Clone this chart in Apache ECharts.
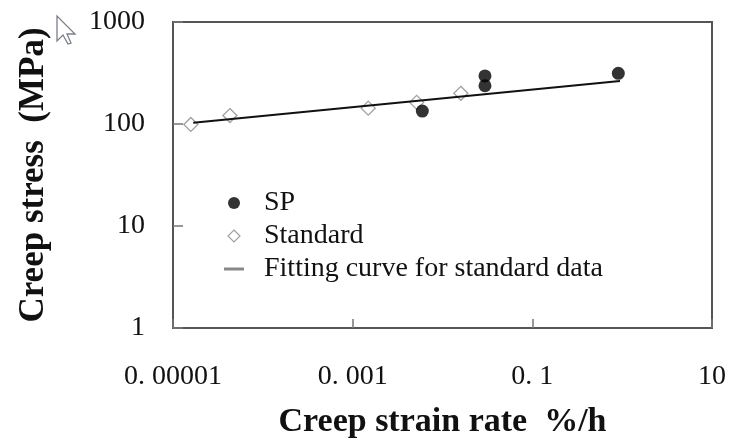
<!DOCTYPE html>
<html>
<head>
<meta charset="utf-8">
<script src="https://cdn.jsdelivr.net/npm/echarts@6/dist/echarts.min.js"></script>
<style>
html,body{margin:0;padding:0;background:#fff;}
#chart{width:729px;height:444px;}
</style>
</head>
<body>
<div id="chart"></div>
<script>
// Data
const spX = [0.00596, 0.0297, 0.0297, 0.906];
const spY = [134, 296, 237, 314];
const stdX = [1.58e-5, 4.3e-5, 1.49e-3, 5.16e-3, 0.016];
const stdY = [99, 121, 143, 163, 200];
const fitX = [1.68e-5, 0.946];
const fitY = [103, 264];
const xTickValues = [0.00001, 0.001, 0.1, 10];
const xTickLabels = ['0. 00001', '0. 001', '0. 1', '10'];
const yTickValues = [1, 10, 100, 1000];
const yTickLabels = ['1', '10', '100', '1000'];
const seriesNames = ['SP', 'Standard', 'Fitting curve for standard data'];

const pairs = (xs, ys) => xs.map((x, i) => [x, ys[i]]);
const FONT = 'Liberation Serif';

function labelFor(vals, labels, v) {
  for (let i = 0; i < vals.length; i++) {
    if (Math.abs(Math.log10(v) - Math.log10(vals[i])) < 1e-6) return labels[i];
  }
  return '';
}

const chart = echarts.init(document.getElementById('chart'), null, {renderer: 'canvas'});
chart.setOption({
  animation: false,
  backgroundColor: '#fff',
  textStyle: {fontFamily: FONT},
  grid: {left: 173, right: 17, top: 22, bottom: 112, show: true, borderColor: '#555', borderWidth: 2, containLabel: false},
  legend: {
    orient: 'vertical', left: 224, top: 188, padding: 0, itemGap: 3,
    itemWidth: 20, itemHeight: 12,
    textStyle: {fontFamily: FONT, fontSize: 28, color: '#111', lineHeight: 30, padding: [0, 0, 0, 15]},
    data: [
      {name: seriesNames[0], icon: 'circle', itemStyle: {color: '#000'}},
      {name: seriesNames[1], icon: 'path://M5,0L10,5L5,10L0,5Z', itemStyle: {color: '#fff', borderColor: '#888', borderWidth: 1.2}},
      {name: seriesNames[2], icon: 'path://M0,0L20,0L20,3L0,3Z', itemStyle: {color: '#888', borderWidth: 0}}
    ]
  },
  xAxis: {
    type: 'log', logBase: 10, min: 0.00001, max: 10, interval: 2,
    name: 'Creep strain rate  %/h', nameLocation: 'middle', nameGap: 77,
    nameTextStyle: {fontFamily: FONT, fontSize: 34, fontWeight: 'bold', color: '#111'},
    axisLine: {show: false},
    axisTick: {show: true, inside: true, length: 9, lineStyle: {color: '#777', width: 1.5}},
    splitLine: {show: false},
    axisLabel: {margin: 35, fontFamily: FONT, fontSize: 28, color: '#111',
      formatter: v => labelFor(xTickValues, xTickLabels, v)}
  },
  yAxis: {
    type: 'log', logBase: 10, min: 1, max: 1000,
    name: 'Creep stress  (MPa)', nameLocation: 'middle', nameGap: 122,
    nameTextStyle: {fontFamily: FONT, fontSize: 35, fontWeight: 'bold', color: '#111'},
    axisLine: {show: false},
    axisTick: {show: true, inside: true, length: 10, lineStyle: {color: '#777', width: 1.5}},
    splitLine: {show: false},
    axisLabel: {margin: 28, fontFamily: FONT, fontSize: 28, color: '#111',
      formatter: v => labelFor(yTickValues, yTickLabels, v)}
  },
  graphic: [{
    type: 'polygon', z: 100,
    shape: {points: [[57,16],[57,41],[63,35],[68,44],[71,43],[67,34],[75,34]]},
    style: {fill: '#fff', stroke: '#7a7f8c', lineWidth: 1.3}
  }],
  series: [
    {
      name: seriesNames[1], type: 'scatter', symbol: 'diamond', symbolSize: 14, z: 2,
      itemStyle: {color: '#fff', borderColor: '#888', borderWidth: 1.3},
      data: pairs(stdX, stdY)
    },
    {
      name: seriesNames[2], type: 'line', symbol: 'none', showSymbol: false, z: 3,
      itemStyle: {color: '#888'},
      lineStyle: {color: '#111', width: 2},
      data: pairs(fitX, fitY)
    },
    {
      name: seriesNames[0], type: 'scatter', symbol: 'circle', symbolSize: 13, z: 4,
      itemStyle: {color: '#000'},
      data: pairs(spX, spY)
    }
  ]
});
</script>
</body>
</html>
